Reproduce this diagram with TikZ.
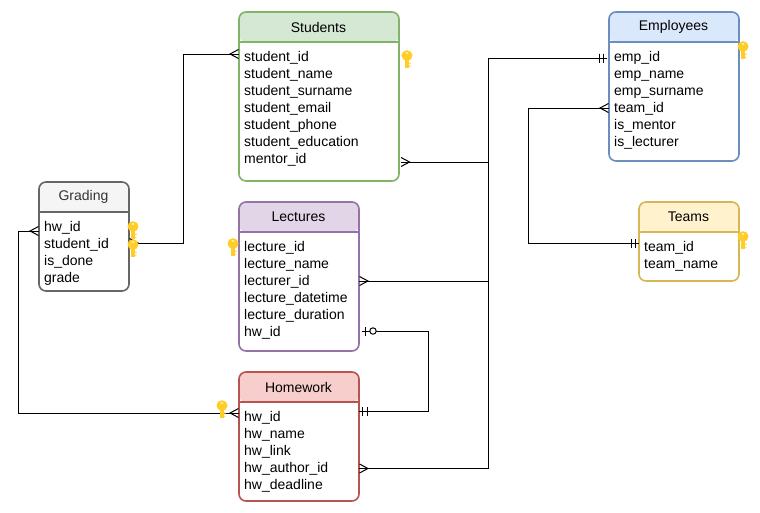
\documentclass[tikz,border=0pt]{standalone}
\usepackage{fontspec}
\setmainfont{Liberation Sans}

\definecolor{keygold}{HTML}{FFCD28}
\definecolor{keyhole}{HTML}{FFF2B0}
\definecolor{stgreen}{HTML}{D5E8D4}
\definecolor{stgreenline}{HTML}{82B366}
\definecolor{lcpurple}{HTML}{E1D5E7}
\definecolor{lcpurpleline}{HTML}{9673A6}
\definecolor{hwred}{HTML}{F8CECC}
\definecolor{hwredline}{HTML}{B85450}
\definecolor{grgray}{HTML}{F5F5F5}
\definecolor{grgrayline}{HTML}{666666}
\definecolor{grtext}{HTML}{333333}
\definecolor{emblue}{HTML}{DAE8FC}
\definecolor{emblueline}{HTML}{6C8EBF}
\definecolor{tmyellow}{HTML}{FFF2CC}
\definecolor{tmyellowline}{HTML}{D6B656}

\pgfdeclarearrow{
  name=crowfoot,
  setup code={\pgfarrowssettipend{0pt}\pgfarrowssetlineend{0pt}},
  drawing code={
    \pgfsetdash{}{0pt}
    \pgfpathmoveto{\pgfqpoint{-0.5pt}{4.5pt}}
    \pgfpathlineto{\pgfqpoint{-9pt}{0pt}}
    \pgfpathlineto{\pgfqpoint{-0.5pt}{-4.5pt}}
    \pgfusepathqstroke
  }
}
\pgfdeclarearrow{
  name=twobars,
  setup code={\pgfarrowssettipend{0pt}\pgfarrowssetlineend{0pt}},
  drawing code={
    \pgfsetdash{}{0pt}
    \pgfpathmoveto{\pgfqpoint{-3.5pt}{4.5pt}}
    \pgfpathlineto{\pgfqpoint{-3.5pt}{-4.5pt}}
    \pgfpathmoveto{\pgfqpoint{-8pt}{4.5pt}}
    \pgfpathlineto{\pgfqpoint{-8pt}{-4.5pt}}
    \pgfusepathqstroke
  }
}
\pgfdeclarearrow{
  name=barcircle,
  setup code={\pgfarrowssettipend{0pt}\pgfarrowssetlineend{0pt}},
  drawing code={
    \pgfsetdash{}{0pt}
    \pgfpathmoveto{\pgfqpoint{-3pt}{4.5pt}}
    \pgfpathlineto{\pgfqpoint{-3pt}{-4.5pt}}
    \pgfusepathqstroke
    \pgfsetfillcolor{white}
    \pgfpathcircle{\pgfqpoint{-11pt}{0pt}}{3.2pt}
    \pgfusepathqfillstroke
  }
}

\tikzset{
  tablebox/.style={draw=#1,fill=white,line width=1.6pt,rounded corners=7pt,
    anchor=north west,inner sep=0pt,outer sep=0pt},
  rowtext/.style={anchor=west,inner sep=0pt,text height=10pt,text depth=3pt,
    font=\fontsize{14}{17}\selectfont},
  titletext/.style={inner sep=0pt,font=\fontsize{14}{17}\selectfont},
  link/.style={line width=1pt,black},
  manymany/.style={link,{crowfoot}-{crowfoot}},
  manyone/.style={link,{crowfoot}-{twobars}},
  oneone/.style={link,{twobars}-{barcircle},shorten >=3pt},
  keyicon/.pic={
    \fill[keygold] (0,-3.5) circle[x radius=5.5,y radius=5.3];
    \fill[keygold] (-2.3,-1) rectangle (2.3,8.5);
    \fill[keygold] (2.3,3.5) rectangle (3.6,5) (2.3,6.5) rectangle (3.4,8);
    \fill[keyhole] (0,-6) circle[x radius=1.7,y radius=1];
  }
}

% name, left, top, width, height, fill, stroke, title, rows
\newcommand{\entitybox}[9]{
  \node[tablebox=#7,minimum width=#4pt,minimum height=#5pt,
    path picture={\fill[#6] (path picture bounding box.north west) rectangle
      ([yshift=-30pt]path picture bounding box.north east);}] (#1) at (#2,#3) {};
  \draw[draw=#7,line width=1.6pt] ([yshift=-30pt]#1.north west) -- ([yshift=-30pt]#1.north east);
  \node[titletext] (#1title) at ([xshift=-0.5pt,yshift=-15pt]#1.north) {#8};
  \foreach \rowname [count=\i] in {#9} {
    \node[rowtext] (#1\i) at ([xshift=5pt,yshift=-29pt-17pt*\i]#1.north west) {\rowname};
  }
}

\begin{document}
\begin{tikzpicture}[x=1pt,y=-1pt]
  \useasboundingbox (0,0) rectangle (760,512);

  \entitybox{students}{239}{12}{160}{169}{stgreen}{stgreenline}{Students}{student\_id,student\_name,student\_surname,student\_email,student\_phone,student\_education,mentor\_id}
  \entitybox{lectures}{239}{202}{120}{149}{lcpurple}{lcpurpleline}{Lectures}{lecture\_id,lecture\_name,lecturer\_id,lecture\_datetime,lecture\_duration,hw\_id}
  \entitybox{homework}{239}{372}{120}{129}{hwred}{hwredline}{Homework}{hw\_id,hw\_name,hw\_link,hw\_author\_id,hw\_deadline}
  \entitybox{grading}{39}{182}{90}{109}{grgray}{grgrayline}{\textcolor{grtext}{Grading}}{hw\_id,student\_id,is\_done,grade}
  \entitybox{employees}{609}{12}{130}{149}{emblue}{emblueline}{Employees}{emp\_id,emp\_name,emp\_surname,team\_id,is\_mentor,is\_lecturer}
  \entitybox{teams}{639}{202}{100}{79}{tmyellow}{tmyellowline}{Teams}{team\_id,team\_name}

  \coordinate (spine) at (488.5,0);
  \coordinate (teamline) at (528.5,0);
  \coordinate (hwline) at (428.5,0);
  \coordinate (studline) at (183.5,0);
  \coordinate (gradeline) at (18.5,0);

  \coordinate (mentorend) at ([yshift=-2pt]students.east |- students7);
  \coordinate (lecturerend) at ([yshift=1pt]lectures.east |- lectures3);
  \coordinate (authorend) at ([yshift=0.5pt]homework.east |- homework4);
  \coordinate (empend) at (employees.west |- employees1);
  \coordinate (teamidend) at ([yshift=1pt]employees.west |- employees4);
  \coordinate (teamend) at ([yshift=4.5pt]teams.west |- teams1);
  \coordinate (hwidend) at ([yshift=2pt]lectures.east |- lectures6);
  \coordinate (hwend) at ([yshift=7pt]homework.east |- homework1);
  \coordinate (gradestudent) at ([yshift=2pt]grading.east |- grading2);
  \coordinate (studentend) at ([yshift=4pt]students.west |- students1);
  \coordinate (gradehw) at ([yshift=-3pt]grading.west |- grading1);
  \coordinate (hwgradeend) at ([yshift=5pt]homework.west |- homework1);

  \draw[manyone,shorten <=1.5pt,shorten >=2pt] (mentorend) -| (spine |- empend) -- (empend);
  \draw[manyone,shorten >=2pt] (lecturerend) -| (spine |- empend) -- (empend);
  \draw[manyone,shorten >=2pt] (authorend) -| (spine |- empend) -- (empend);
  \draw[manyone] (teamidend) -| (teamline |- teamend) -- (teamend);
  \draw[oneone] (hwend) -| (hwline |- hwidend) -- (hwidend);
  \draw[manymany] (gradestudent) -| (studline |- studentend) -- (studentend);
  \draw[manymany] (gradehw) -| (gradeline |- hwgradeend) -- (hwgradeend);

  \pic at (133,230) {keyicon};
  \pic at (133,248) {keyicon};
  \pic at (407,59) {keyicon};
  \pic at (233,247) {keyicon};
  \pic at (222,409) {keyicon};
  \pic at (743,50) {keyicon};
  \pic at (743,240) {keyicon};
\end{tikzpicture}
\end{document}
